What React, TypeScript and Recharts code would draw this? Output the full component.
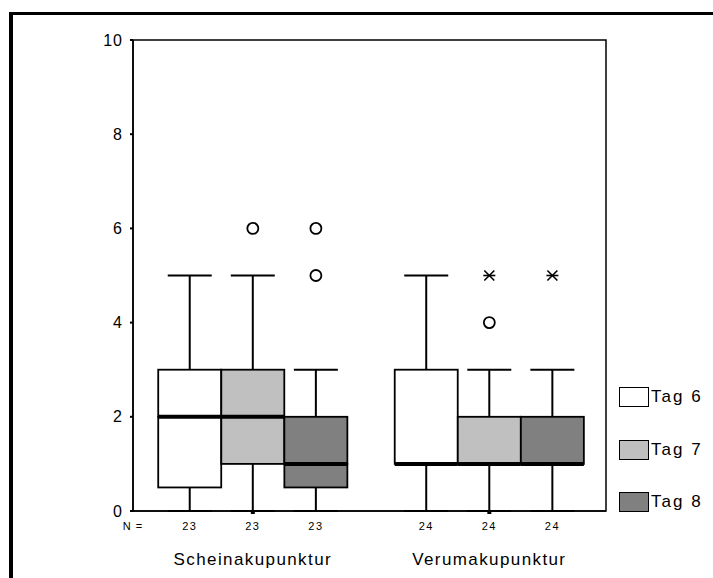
import { ComposedChart, Bar, Cell, Scatter, XAxis, YAxis, ReferenceArea, Legend } from 'recharts';

const groups = ['Scheinakupunktur', 'Verumakupunktur'];
const days = ['Tag 6', 'Tag 7', 'Tag 8'];
const dayColors = ['#ffffff', '#c0c0c0', '#808080'];
const counts = [
  [23, 23, 23],
  [24, 24, 24],
];

// [min, q1, median, q3, max] per day
const scheinStats = [
  [0, 0.5, 2, 3, 5],
  [0, 1, 2, 3, 5],
  [0, 0.5, 1, 2, 3],
];
const verumStats = [
  [0, 1, 1, 3, 5],
  [0, 1, 1, 2, 3],
  [0, 1, 1, 2, 3],
];

// o = outlier, * = extreme
const scheinOutliers = [[], [{ value: 6, kind: 'o' }], [{ value: 5, kind: 'o' }, { value: 6, kind: 'o' }]];
const verumOutliers = [[], [{ value: 4, kind: 'o' }, { value: 5, kind: '*' }], [{ value: 5, kind: '*' }]];

const yTicks = [0, 2, 4, 6, 8, 10];

const GROUP_STEP = 3.75;
const X_MIN = 0.1;
const X_MAX = 7.6;
const CAP = 22;
const FONT = '"Liberation Sans", Arial, sans-serif';

const boxX = (g: number, d: number) => 1 + g * GROUP_STEP + d;

const rows: any[] = [];
const outliers: any[] = [];
[scheinStats, verumStats].forEach((stats, g) => {
  stats.forEach(([min, q1, med, q3, max], d) => {
    rows.push({
      x: boxX(g, d),
      g,
      d,
      n: counts[g][d],
      base: min,
      lowWhisker: q1 - min,
      lowBox: med - q1,
      highBox: q3 - med,
      highWhisker: max - q3,
    });
  });
});
[scheinOutliers, verumOutliers].forEach((list, g) => {
  list.forEach((pts, d) => {
    pts.forEach((p) => outliers.push({ x: boxX(g, d), y: p.value, kind: p.kind }));
  });
});

const LowWhisker = (props: any) => {
  const { x, y, width, height } = props;
  if (height == null) return null;
  const cx = x + width / 2;
  return (
    <g>
      <line x1={cx} x2={cx} y1={y} y2={y + height} stroke="#000" strokeWidth={2} />
      <line x1={cx - CAP} x2={cx + CAP} y1={y + height} y2={y + height} stroke="#000" strokeWidth={2} />
    </g>
  );
};

const HighWhisker = (props: any) => {
  const { x, y, width, height } = props;
  if (!height) return null;
  const cx = x + width / 2;
  return (
    <g>
      <line x1={cx} x2={cx} y1={y} y2={y + height} stroke="#000" strokeWidth={2} />
      <line x1={cx - CAP} x2={cx + CAP} y1={y} y2={y} stroke="#000" strokeWidth={2} />
    </g>
  );
};

const LowBox = (props: any) => {
  const { x, y, width, height, fill } = props;
  if (!height) return null;
  return <rect x={x} y={y} width={width} height={height} fill={fill} stroke="#000" strokeWidth={1.8} />;
};

const HighBox = (props: any) => {
  const { x, y, width, height, fill } = props;
  const h = height || 0;
  return (
    <g>
      {h > 0 && <rect x={x} y={y} width={width} height={h} fill={fill} stroke="#000" strokeWidth={1.8} />}
      <line x1={x} x2={x + width} y1={y + h} y2={y + h} stroke="#000" strokeWidth={4} />
    </g>
  );
};

const OutlierMark = (props: any) => {
  const { cx, cy, payload } = props;
  if (payload.kind === '*') {
    return (
      <g stroke="#000" strokeWidth={1.6}>
        <line x1={cx - 5} x2={cx + 5} y1={cy - 5} y2={cy + 5} />
        <line x1={cx - 5} x2={cx + 5} y1={cy + 5} y2={cy - 5} />
        <line x1={cx - 6} x2={cx + 6} y1={cy} y2={cy} />
      </g>
    );
  }
  return <circle cx={cx} cy={cy} r={5.5} fill="none" stroke="#000" strokeWidth={1.8} />;
};

const XTick = (props: any) => {
  const { x, y, payload } = props;
  if (Math.abs(payload.value - X_MIN) < 1e-6) {
    return (
      <text x={x} y={y + 19} fontSize={11} textAnchor="middle" fill="#000" style={{ letterSpacing: 1 }}>
        N =
      </text>
    );
  }
  const r = rows.find((row) => Math.abs(row.x - payload.value) < 1e-6);
  if (!r) return null;
  return (
    <g>
      <text x={x} y={y + 19} fontSize={11} textAnchor="middle" fill="#000" style={{ letterSpacing: 1.5 }}>
        {r.n}
      </text>
      {r.d === 1 && (
        <>
          <rect x={x - 2} y={y} width={4} height={3} fill="#000" />
          <text x={x} y={y + 54} fontSize={17} textAnchor="middle" fill="#000" style={{ letterSpacing: 1.4 }}>
            {groups[r.g]}
          </text>
        </>
      )}
    </g>
  );
};

const LegendContent = () => (
  <div style={{ fontFamily: FONT }}>
    {days.map((d, i) => (
      <div key={d} style={{ display: 'flex', alignItems: 'center', height: 52.5 }}>
        <span
          style={{
            display: 'inline-block',
            width: 30,
            height: 20,
            boxSizing: 'border-box',
            border: '1.8px solid #000',
            background: dayColors[i],
          }}
        />
        <span style={{ fontSize: 17, letterSpacing: 2, marginLeft: 2, color: '#000' }}>{d}</span>
      </div>
    ))}
  </div>
);

export default function App() {
  return (
    <div
      style={{
        position: 'fixed',
        left: 0,
        top: 0,
        width: 713,
        height: 578,
        overflow: 'hidden',
        background: '#fff',
        fontFamily: FONT,
      }}
    >
      <div
        style={{
          position: 'absolute',
          left: 9,
          top: 12,
          width: 800,
          height: 700,
          borderLeft: '4px solid #000',
          borderTop: '3.5px solid #000',
        }}
      />
      <div style={{ position: 'absolute', left: 0, top: 0 }}>
        <ComposedChart
          width={713}
          height={578}
          data={rows}
          margin={{ top: 40, right: 107, bottom: 7, left: 73 }}
          barCategoryGap={0}
          barGap={0}
        >
          <XAxis
            type="number"
            dataKey="x"
            domain={[X_MIN, X_MAX]}
            ticks={[X_MIN, ...rows.map((r) => r.x)]}
            interval={0}
            height={60}
            tickLine={false}
            tickSize={0}
            tickMargin={0}
            axisLine={{ stroke: '#000', strokeWidth: 1.5 }}
            tick={<XTick />}
          />
          <YAxis
            type="number"
            domain={[0, 10]}
            ticks={yTicks}
            interval={0}
            width={60}
            tickSize={3}
            tickMargin={7}
            axisLine={{ stroke: '#000', strokeWidth: 1.5 }}
            tickLine={{ stroke: '#000', strokeWidth: 2 }}
            tick={{ fill: '#000', fontSize: 16, letterSpacing: 1 }}
          />
          <ReferenceArea x1={X_MIN} x2={X_MAX} y1={0} y2={10} fill="none" stroke="#000" strokeWidth={1.5} />
          <Bar dataKey="base" stackId="box" fill="none" isAnimationActive={false} legendType="none" />
          <Bar dataKey="lowWhisker" stackId="box" shape={<LowWhisker />} isAnimationActive={false} legendType="none" />
          <Bar dataKey="lowBox" stackId="box" shape={<LowBox />} isAnimationActive={false} legendType="none">
            {rows.map((r) => (
              <Cell key={r.x} fill={dayColors[r.d]} />
            ))}
          </Bar>
          <Bar dataKey="highBox" stackId="box" shape={<HighBox />} isAnimationActive={false} legendType="none">
            {rows.map((r) => (
              <Cell key={r.x} fill={dayColors[r.d]} />
            ))}
          </Bar>
          <Bar dataKey="highWhisker" stackId="box" shape={<HighWhisker />} isAnimationActive={false} legendType="none" />
          <Scatter data={outliers} dataKey="y" shape={<OutlierMark />} isAnimationActive={false} legendType="none" />
          <Legend
            layout="vertical"
            align="center"
            verticalAlign="middle"
            content={<LegendContent />}
            wrapperStyle={{ left: 619, top: 371, width: 94, right: 'auto', bottom: 'auto' }}
          />
        </ComposedChart>
      </div>
    </div>
  );
}
